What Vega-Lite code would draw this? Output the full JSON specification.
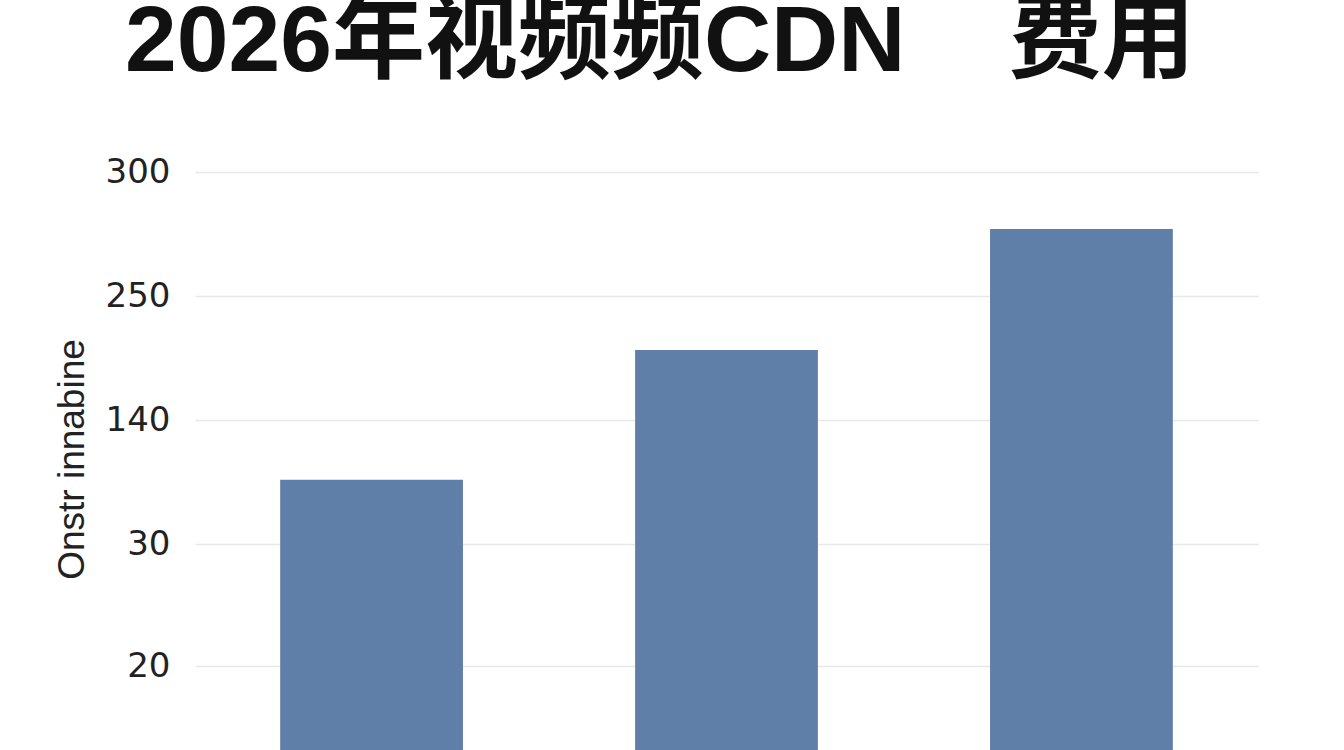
{
  "$schema": "https://vega.github.io/schema/vega-lite/v6.json",
  "width": 1063,
  "height": 600,
  "autosize": "none",
  "padding": {"left": 195, "top": 150, "right": 86, "bottom": 0},
  "background": "white",
  "title": {
    "text": "2026年视频频CDN\u00a0\u00a0\u00a0\u00a0费用",
    "font": "Liberation Sans, Noto Sans CJK SC",
    "fontSize": 93,
    "fontWeight": "bold",
    "color": "#111111",
    "anchor": "start",
    "frame": "group",
    "dx": -70,
    "dy": 44,
    "baseline": "alphabetic",
    "offset": 30
  },
  "data": {
    "values": [
      {"category": "A", "value": 87},
      {"category": "B", "value": 202},
      {"category": "C", "value": 277}
    ]
  },
  "mark": {"type": "bar", "color": "#5f7fa9", "clip": true},
  "encoding": {
    "x": {
      "field": "category",
      "type": "nominal",
      "sort": null,
      "scale": {"paddingInner": 0.485, "paddingOuter": 0.24},
      "axis": null
    },
    "y": {
      "field": "value",
      "type": "quantitative",
      "scale": {
        "domain": [20, 30, 140, 250, 300],
        "range": [516, 394, 270, 146, 22],
        "nice": false,
        "zero": false,
        "clamp": false
      },
      "axis": {
        "values": [20, 30, 140, 250, 300],
        "title": "Onstr innabine",
        "titleFont": "Liberation Sans",
        "titleFontSize": 37,
        "titleFontWeight": "normal",
        "titleColor": "#222222",
        "titleAngle": -90,
        "titleX": -123,
        "titleY": 309,
        "titleAlign": "center",
        "titleBaseline": "middle",
        "labelFont": "DejaVu Sans",
        "labelFontSize": 34,
        "labelColor": "#222222",
        "labelPadding": 25,
        "domain": false,
        "ticks": false,
        "grid": true,
        "gridColor": "#e8e8e8",
        "gridWidth": 1.5
      }
    }
  },
  "config": {"view": {"stroke": null}}
}
